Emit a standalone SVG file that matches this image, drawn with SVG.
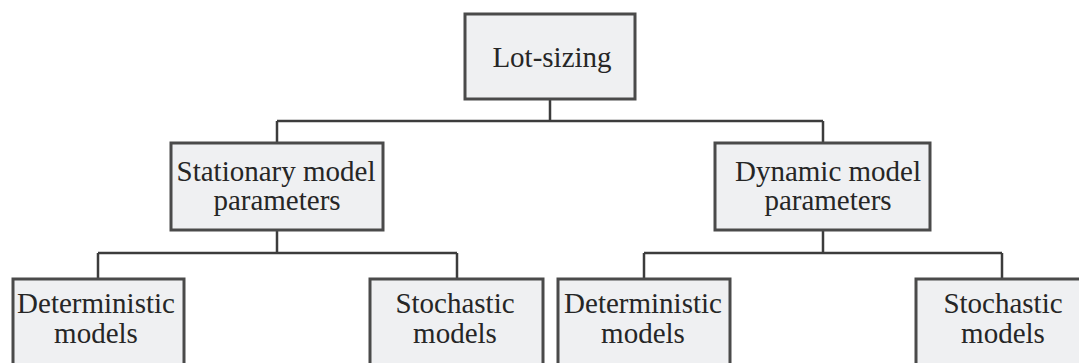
<svg xmlns="http://www.w3.org/2000/svg" width="1079" height="363" viewBox="0 0 1079 363">
<style>
.box{fill:#eff0f2;stroke:#4a4a4a;stroke-width:3}
.lbl{font-family:"Liberation Serif","Times New Roman",serif;font-size:29px;fill:#262626;text-anchor:middle}
.conn{fill:none;stroke:#3c3c3c;stroke-width:2.5}
</style>
<rect width="1079" height="363" fill="#ffffff"/>
<g id="connectors">
<path class="conn" d="M550 99V121M277 121H823M277 121V143M823 121V143"/>
<path class="conn" d="M277 230V253M98 253H457M98 253V279M457 253V279"/>
<path class="conn" d="M823 230V253M644 253H1002M644 253V279M1002 253V279"/>
</g>
<g id="lot-sizing">
<rect class="box" x="465" y="14" width="170" height="85"/>
<text class="lbl" x="552" y="67">Lot-sizing</text>
</g>
<g id="stationary">
<rect class="box" x="171" y="143" width="212" height="87"/>
<text class="lbl" x="276" y="181">Stationary model</text>
<text class="lbl" x="277" y="210">parameters</text>
</g>
<g id="dynamic">
<rect class="box" x="715" y="143" width="215" height="87"/>
<text class="lbl" x="828" y="181">Dynamic model</text>
<text class="lbl" x="828" y="210">parameters</text>
</g>
<g id="det-1">
<rect class="box" x="13" y="279" width="171" height="100"/>
<text class="lbl" x="96" y="313">Deterministic</text>
<text class="lbl" x="96" y="343">models</text>
</g>
<g id="stoch-1">
<rect class="box" x="370" y="279" width="173" height="100"/>
<text class="lbl" x="455" y="313">Stochastic</text>
<text class="lbl" x="455" y="343">models</text>
</g>
<g id="det-2">
<rect class="box" x="558" y="279" width="172" height="100"/>
<text class="lbl" x="643" y="313">Deterministic</text>
<text class="lbl" x="643" y="343">models</text>
</g>
<g id="stoch-2">
<rect class="box" x="916" y="279" width="172" height="100"/>
<text class="lbl" x="1003" y="313">Stochastic</text>
<text class="lbl" x="1003" y="343">models</text>
</g>
</svg>
